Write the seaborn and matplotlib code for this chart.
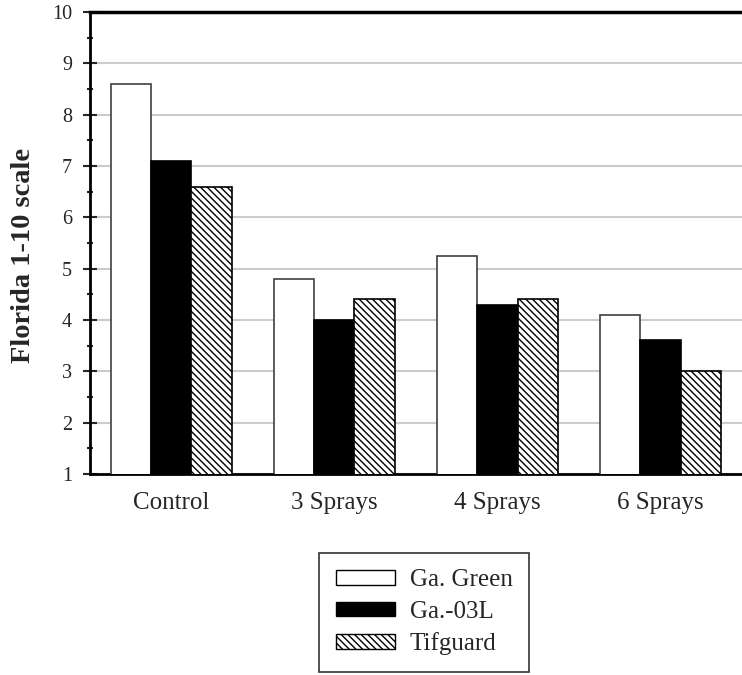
import matplotlib
matplotlib.use('Agg')
import matplotlib.pyplot as plt
import numpy as np
import pandas as pd
import seaborn as sns
from matplotlib.patches import Patch
from matplotlib.ticker import MultipleLocator

XTICK_FONTSIZE = 18
YTICK_FONTSIZE = 14.5
LABEL_FONTSIZE = 20.5
LEGEND_FONTSIZE = 18

treatments = ['Control', '3 Sprays', '4 Sprays', '6 Sprays']
varieties = ['Ga. Green', 'Ga.-03L', 'Tifguard']
ga_green = [8.6, 4.8, 5.25, 4.1]
ga_03l = [7.1, 4.0, 4.3, 3.6]
tifguard = [6.6, 4.4, 4.4, 3.0]

rows = []
for name, values in zip(varieties, [ga_green, ga_03l, tifguard]):
  for treatment, value in zip(treatments, values):
    rows.append({'treatment': treatment, 'variety': name, 'score': value})
df = pd.DataFrame(rows)

sns.set_style('white')
plt.rcParams['font.family'] = ['Liberation Serif', 'DejaVu Serif']
plt.rcParams['hatch.linewidth'] = 1.0

fig = plt.figure(figsize=(7.42, 6.75), dpi=100)
ax = fig.add_axes([0.121, 0.298, 0.879, 0.684])

fills = {'Ga. Green': 'white', 'Ga.-03L': 'black', 'Tifguard': 'white'}
hatches = {'Ga. Green': '', 'Ga.-03L': '', 'Tifguard': '\\\\\\\\\\'}

sns.barplot(data=df, x='treatment', y='score', hue='variety',
            hue_order=varieties, order=treatments, palette=fills,
            width=0.74, gap=0, edgecolor='#333333', linewidth=1.2,
            saturation=1, legend=False, ax=ax, zorder=3)

# hatch the third series
for container, name in zip(ax.containers, varieties):
  for bar in container:
    bar.set_hatch(hatches[name])
    bar.set_edgecolor('black' if name != 'Ga. Green' else '#404040')

ax.set_ylim(1, 10)
ax.set_xlim(-0.5, 3.5)
ax.yaxis.set_major_locator(MultipleLocator(1))
ax.yaxis.set_minor_locator(MultipleLocator(0.5))
ax.grid(axis='y', which='major', color='#cccccc', linewidth=1.5, zorder=0)
ax.set_axisbelow(True)

ax.tick_params(axis='y', which='major', direction='inout', length=9.5,
               width=1.5, labelsize=YTICK_FONTSIZE, pad=8, left=True)
ax.tick_params(axis='y', which='minor', direction='inout', length=5,
               width=1.5, left=True)
ax.tick_params(axis='x', length=0, labelsize=XTICK_FONTSIZE, pad=13)

ax.spines['right'].set_visible(False)
ax.spines['left'].set_linewidth(2)
ax.spines['bottom'].set_linewidth(2)
ax.spines['top'].set_linewidth(2.5)
for side in ['left', 'bottom', 'top']:
  ax.spines[side].set_color('black')

ax.set_xlabel('')
ax.set_ylabel('Florida 1-10 scale', fontsize=LABEL_FONTSIZE,
              fontweight='bold')
ax.yaxis.set_label_coords(-0.082, 0.474)

handles = [Patch(facecolor=fills[n], edgecolor='black', hatch=hatches[n],
                 linewidth=1, label=n) for n in varieties]
leg = fig.legend(handles=handles, loc='upper center',
                 bbox_to_anchor=(0.572, 0.181), fontsize=LEGEND_FONTSIZE,
                 frameon=True, fancybox=False, edgecolor='black',
                 handlelength=2.36, handleheight=0.52, labelspacing=0.38,
                 borderpad=0.66, handletextpad=0.6, borderaxespad=0)
leg.get_frame().set_linewidth(1.2)

fig.savefig('out.png', dpi=100)
